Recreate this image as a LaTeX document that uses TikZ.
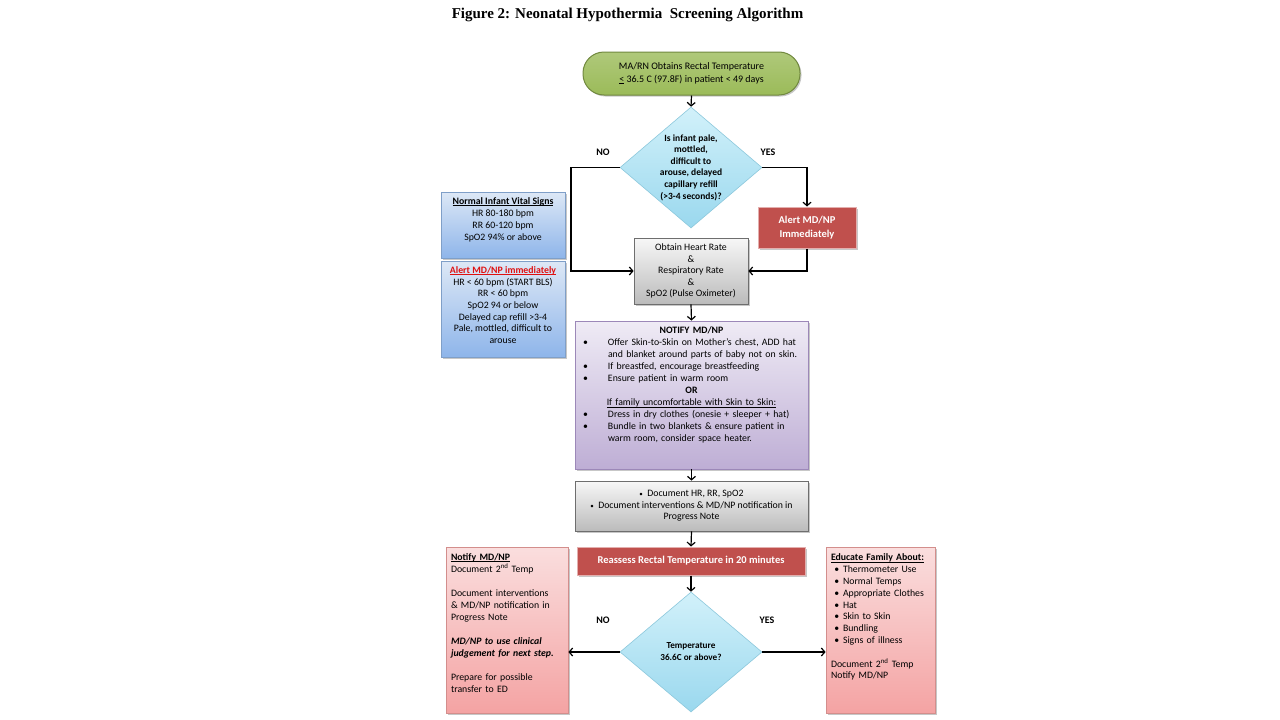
\documentclass[tikz,border=0pt]{standalone}
\usepackage{fontspec}
\setmainfont{Carlito}
\newfontfamily\titlefont{Liberation Serif}
\usetikzlibrary{shapes.geometric,arrows.meta,shadows}
\definecolor{grnF}{HTML}{9BBB59}
\definecolor{grnD}{HTML}{71893F}
\definecolor{cyT}{HTML}{D2F1FA}
\definecolor{cyB}{HTML}{9AD8EE}
\definecolor{cyD}{HTML}{8CC8DC}
\definecolor{gyT}{HTML}{F7F7F7}
\definecolor{gyB}{HTML}{BBBBBB}
\definecolor{gyD}{HTML}{6E6E6E}
\definecolor{rdF}{HTML}{C0504D}
\definecolor{rdD}{HTML}{E3AFAE}
\definecolor{puT}{HTML}{EFEBF5}
\definecolor{puB}{HTML}{BEAED5}
\definecolor{puD}{HTML}{9C88B8}
\definecolor{blT}{HTML}{DDE8F6}
\definecolor{blB}{HTML}{8EB5EA}
\definecolor{blD}{HTML}{7F9FC8}
\definecolor{pkT}{HTML}{FADEDE}
\definecolor{pkB}{HTML}{F4A3A3}
\definecolor{pkD}{HTML}{D38E8C}
\definecolor{alertred}{HTML}{E01010}
\newcommand{\fs}{\fontsize{9.8}{11.6}\selectfont}
\newcommand{\dn}[1]{\rule[-#1]{0pt}{0pt}}
\newcommand{\ul}[1]{\leavevmode\setbox0\hbox{#1}\rlap{\rule[-1.6pt]{\wd0}{0.6pt}}\box0\relax}
\newcommand{\bitem}[1]{\par\hangindent=29pt\hangafter=1\noindent\hspace*{4pt}\makebox[25pt][l]{•}#1}
\begin{document}
\begin{tikzpicture}[x=1pt,y=-1pt,
  base/.style={font=\fs, inner sep=0pt, align=center},
  shad/.style={drop shadow={shadow xshift=1.5pt,shadow yshift=-1.5pt,fill=black,opacity=0.22}},
  startbox/.style={base, shad, rectangle, rounded corners=21pt, draw=grnD, line width=1pt,
     top color=grnF!80!white, bottom color=grnF, minimum width=217pt, minimum height=43pt,
     font=\fontsize{10}{12.5}\selectfont},
  decbox/.style={diamond, draw=cyD, line width=0.6pt, top color=cyT, bottom color=cyB,
     inner sep=0pt},
  dtext/.style={base, font=\fontsize{9.5}{11.6}\selectfont\bfseries},
  graybox/.style={base, shad, rectangle, draw=gyD, line width=0.8pt, top color=gyT, bottom color=gyB},
  redbox/.style={base, shad, rectangle, draw=rdD, line width=1pt, fill=rdF, text=white,
     font=\fontsize{10.5}{13.5}\selectfont\bfseries},
  purplebox/.style={base, shad, rectangle, draw=puD, line width=0.8pt, top color=puT, bottom color=puB},
  bluebox/.style={base, shad, rectangle, draw=blD, line width=0.8pt, top color=blT, bottom color=blB},
  pinkbox/.style={base, shad, rectangle, draw=pkD, line width=0.8pt, top color=pkT, bottom color=pkB},
  yn/.style={font=\fontsize{10}{12}\selectfont\bfseries},
  arr/.style={line width=1.2pt, -{Straight Barb[length=3.5pt,width=8pt]}}
]
\useasboundingbox[fill=white] (0,0) rectangle (1280,720);

\node[font=\titlefont\fontsize{15}{17}\selectfont\bfseries] (title) at (627.5,15)
  {Figure\ 2: Neonatal Hypothermia\ \ Screening Algorithm};

\node[startbox] (start) at (691.5,73.5)
  {MA/RN Obtains Rectal Temperature\\\ul{<} 36.5 C (97.8F) in patient < 49 days};

\node[decbox, minimum width=142pt, minimum height=121pt] (d1) at (691,167.5) {};
\node[dtext] (d1t) at (d1.center)
  {Is infant pale,\\mottled,\\difficult to\\arouse, delayed\\capillary refill\\(>3-4 seconds)?};

\node[yn] (no1) at (603,152) {NO};
\node[yn] (yes1) at (768,152) {YES};

\node[redbox, minimum width=98pt, minimum height=41pt] (alertA) at (807,227.5)
  {Alert MD/NP\\Immediately};

\node[graybox, minimum width=114pt, minimum height=66pt] (obtain) at (691,271)
  {Obtain Heart Rate\\\&\\Respiratory Rate\\\&\\SpO2 (Pulse Oximeter)};

\node[bluebox, minimum width=124pt, minimum height=66pt, font=\fontsize{9.8}{12}\selectfont] (normal) at (503,225)
  {\textbf{\ul{Normal Infant Vital Signs}}\\HR 80-180 bpm\\RR 60-120 bpm\\SpO2 94\% or above\dn{12pt}};

\node[bluebox, minimum width=124pt, minimum height=96pt, font=\fontsize{9.8}{11.7}\selectfont] (alertB) at (503,309)
  {\textcolor{alertred}{\textbf{\ul{Alert MD/NP immediately}}}\\HR < 60 bpm (START BLS)\\RR < 60 bpm\\SpO2 94 or below\\Delayed cap refill >3-4\\Pale, mottled, difficult to\\arouse\dn{8pt}};

\node[purplebox, minimum width=233pt, minimum height=148pt, text width=225pt, align=left,
      font=\fontsize{9.8}{12}\selectfont] (notify) at (691.5,395)
  {{\centering\textbf{NOTIFY MD/NP}\par}%
   \bitem{Offer Skin-to-Skin on Mother’s chest, ADD hat\newline and blanket around parts of baby not on skin.}%
   \bitem{If breastfed, encourage breastfeeding}%
   \bitem{Ensure patient in warm room}%
   \par{\centering\textbf{OR}\par}%
   {\centering\ul{If family uncomfortable with Skin to Skin:}\par}%
   \bitem{Dress in dry clothes (onesie + sleeper + hat)}%
   \bitem{Bundle in two blankets \& ensure patient in\newline warm room, consider space heater.\dn{21pt}}\par};

\node[graybox, minimum width=233pt, minimum height=50pt] (document) at (691.5,506)
  {{\scriptsize•}\ \ Document HR, RR, SpO2\\{\scriptsize•}\ \ Document interventions \& MD/NP notification in\\Progress Note};

\node[redbox, minimum width=228pt, minimum height=28pt] (reassess) at (691,561)
  {Reassess Rectal Temperature in 20 minutes};

\node[decbox, minimum width=142pt, minimum height=120pt] (d2) at (691,652) {};
\node[dtext, font=\fontsize{9.2}{12}\selectfont\bfseries] (d2t) at (d2.center)
  {Temperature\\36.6C or above?};

\node[yn] (no2) at (603,620) {NO};
\node[yn] (yes2) at (767,620) {YES};

\node[pinkbox, minimum width=122pt, minimum height=166pt, text width=112pt, align=left,
      font=\fontsize{9.8}{12}\selectfont] (notify2) at (507,630)
  {\textbf{\ul{Notify MD/NP}}\\
   Document 2\textsuperscript{nd} Temp\\[12pt]
   Document interventions\\
   \& MD/NP notification in\\
   Progress Note\\[12pt]
   \textbf{\textit{MD/NP to use clinical}}\\
   \textbf{\textit{judgement for next step.}}\\[12pt]
   Prepare for possible\\
   transfer to ED\dn{14pt}};

\node[pinkbox, minimum width=109pt, minimum height=166pt, text width=99pt, align=left,
      font=\fontsize{9.8}{11.8}\selectfont] (educate) at (880.5,630)
  {\textbf{\ul{Educate Family About:}}\\
   \makebox[12pt][l]{\ •}Thermometer Use\\
   \makebox[12pt][l]{\ •}Normal Temps\\
   \makebox[12pt][l]{\ •}Appropriate Clothes\\
   \makebox[12pt][l]{\ •}Hat\\
   \makebox[12pt][l]{\ •}Skin to Skin\\
   \makebox[12pt][l]{\ •}Bundling\\
   \makebox[12pt][l]{\ •}Signs of illness\\[11.8pt]
   Document 2\textsuperscript{nd} Temp\\
   Notify MD/NP\dn{27pt}};

% connectors
\coordinate (nl) at (571,167.5);
\draw[arr] (start.south) -- (d1.north);
\draw[arr] (d1.west) -- (nl) |- (obtain.west);
\draw[arr] (d1.east) -| (alertA.north);
\draw[arr] (alertA.south) |- (obtain.east);
\draw[arr] (obtain.south) -- (notify.north);
\draw[arr] (notify.south) -- (document.north);
\draw[arr] (document.south) -- (reassess.north);
\draw[arr] (reassess.south) -- (d2.north);
\draw[arr] (d2.west) -- (d2.west -| notify2.east);
\draw[arr] (d2.east) -- (d2.east -| educate.west);
\end{tikzpicture}
\end{document}
